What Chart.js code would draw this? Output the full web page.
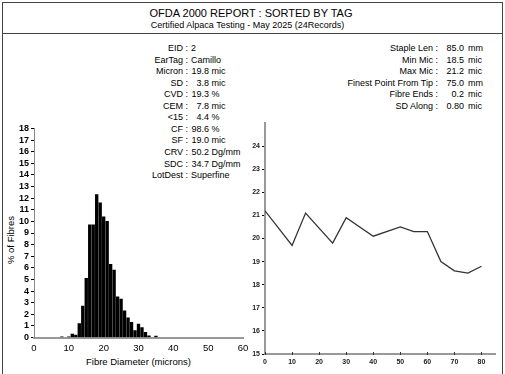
<!DOCTYPE html>
<html>
<head>
<meta charset="utf-8">
<script src="https://cdn.jsdelivr.net/npm/chart.js@4.4.1/dist/chart.umd.min.js"></script>
<style>
  body { margin: 0; width: 505px; height: 374px; overflow: hidden; background: #fff;
         font-family: "Liberation Sans", Arial, sans-serif; color: #000; position: relative; }
  #frame { position: absolute; left: 2px; top: 2px; width: 499px; height: 400px;
           border: 1px solid #444; border-bottom: none; }
  #sep { position: absolute; left: 2px; top: 33px; width: 501px; height: 1px; background: #444; }
  #title { position: absolute; left: 0; width: 502px; top: 7px; text-align: center; font-size: 11px; }
  #subtitle { position: absolute; left: 0; width: 495px; top: 20px; text-align: center; font-size: 9px; }
  .row { position: absolute; height: 12px; line-height: 12px; font-size: 9px; white-space: nowrap; }
  .row span { position: absolute; top: 0; }
  #xtitle { position: absolute; left: 34px; width: 209px; top: 356px; text-align: center; font-size: 9.5px; }
  #ytitle { position: absolute; left: 10px; top: 240px; font-size: 9.5px; white-space: nowrap;
            transform: translate(-50%, -50%) rotate(-90deg); }
  canvas { position: absolute; }
</style>
</head>
<body>
<div id="frame"></div>
<div id="sep"></div>
<div id="title">OFDA 2000 REPORT : SORTED BY TAG</div>
<div id="subtitle">Certified Alpaca Testing - May 2025 (24Records)</div>
<div id="stats"></div>
<div id="xtitle">Fibre Diameter (microns)</div>
<div id="ytitle">% of Fibres</div>
<canvas id="histo" width="260" height="264" style="left:0;top:110px"></canvas>
<canvas id="profile" width="275" height="274" style="left:230px;top:100px"></canvas>

<script>
// Sample summary (left block)
const statLabels = ['EID', 'EarTag', 'Micron', 'SD', 'CVD', 'CEM', '<15', 'CF', 'SF', 'CRV', 'SDC', 'LotDest'];
const statValues = ['2', 'Camillo', '19.8', '3.8', '19.3', '7.8', '4.4', '98.6', '19.0', '50.2', '34.7', 'Superfine'];
const statUnits = ['', '', 'mic', 'mic', '%', 'mic', '%', '%', 'mic', 'Dg/mm', 'Dg/mm', ''];

// Staple profile summary (right block)
const profileLabels = ['Staple Len', 'Min Mic', 'Max Mic', 'Finest Point From Tip', 'Fibre Ends', 'SD Along'];
const profileValues = ['85.0', '18.5', '21.2', '75.0', '0.2', '0.80'];
const profileUnits = ['mm', 'mic', 'mic', 'mm', 'mic', 'mic'];

// Histogram: fibre diameter (microns) vs % of fibres
const diameters = [8, 10, 11, 12, 13, 14, 15, 16, 17, 18, 19, 20, 21, 22, 23, 24, 25, 26, 27, 28, 29, 30, 31, 32, 33, 35];
const fibrePercent = [0.05, 0.05, 0.3, 0.2, 1.2, 2.7, 5.1, 9.7, 9.7, 12.3, 11.6, 10.4, 10.0, 6.3, 5.8, 3.5, 3.3, 2.3, 1.7, 1.3, 0.6, 1.15, 0.85, 0.45, 0.15, 0.12];
const histoYTicks = [0, 1, 2, 3, 4, 5, 6, 7, 8, 9, 10, 11, 12, 13, 14, 15, 16, 17, 18];
const histoXTicks = [0, 10, 20, 30, 40, 50, 60];

// Micron profile along the staple
const tipDistance = [0, 10, 15, 25, 30, 40, 50, 55, 60, 65, 70, 75, 80];
const profileMicron = [21.2, 19.7, 21.1, 19.8, 20.9, 20.1, 20.5, 20.3, 20.3, 19.0, 18.6, 18.5, 18.8];
const profileYTicks = [15, 16, 17, 18, 19, 20, 21, 22, 23, 24];
const profileXTicks = [0, 10, 20, 30, 40, 50, 60, 70, 80];

function addRows(labels, values, units, colonX, numX, unitGap, top) {
  const box = document.getElementById('stats');
  labels.forEach((lab, i) => {
    const row = document.createElement('div');
    row.className = 'row';
    row.style.left = '0px';
    row.style.top = (top + i * 11.55 - 6) + 'px';
    const l = document.createElement('span');
    l.textContent = lab + ' :';
    l.style.left = '0px';
    l.style.width = colonX + 'px';
    l.style.textAlign = 'right';
    row.appendChild(l);
    const v = document.createElement('span');
    v.textContent = values[i];
    if (units[i]) {
      v.style.left = colonX + 'px';
      v.style.width = (numX - colonX) + 'px';
      v.style.textAlign = 'right';
      const u = document.createElement('span');
      u.textContent = units[i];
      u.style.left = (numX + unitGap) + 'px';
      row.appendChild(u);
    } else {
      v.style.left = (colonX + 3) + 'px';
    }
    row.appendChild(v);
    box.appendChild(row);
  });
}

addRows(statLabels, statValues, statUnits, 188, 209, 2.5, 48);
addRows(profileLabels, profileValues, profileUnits, 438, 464, 4, 48);

const tickFont = { family: 'Liberation Sans', size: 9, weight: 'bold' };
const smallFont = { family: 'Liberation Sans', size: 7, weight: 'bold' };

function keepTicks(list) {
  return scale => { scale.ticks = list.map(v => ({ value: v })); };
}

// little tick marks standing on the profile x axis
const innerTicks = {
  id: 'innerTicks',
  afterDraw(chart) {
    const x = chart.scales.x;
    const ctx = chart.ctx;
    ctx.save();
    ctx.strokeStyle = '#333';
    ctx.lineWidth = 1;
    profileXTicks.forEach(v => {
      const px = Math.round(x.getPixelForValue(v)) + 0.5;
      ctx.beginPath();
      ctx.moveTo(px, x.top - 2);
      ctx.lineTo(px, x.top + 1);
      ctx.stroke();
    });
    ctx.restore();
  }
};

new Chart(document.getElementById('histo'), {
  type: 'bar',
  data: {
    datasets: [{
      data: diameters.map((d, i) => ({ x: d, y: fibrePercent[i] })),
      backgroundColor: '#000',
      barThickness: 2.7
    }]
  },
  options: {
    responsive: false,
    animation: false,
    events: [],
    layout: { autoPadding: false, padding: { left: 0, top: 18.5, right: 17, bottom: 16.5 } },
    plugins: { legend: { display: false }, tooltip: { enabled: false } },
    scales: {
      x: {
        type: 'linear', min: 0, max: 60, offset: false,
        afterBuildTicks: keepTicks(histoXTicks),
        afterFit: s => { s.height = 20; },
        ticks: { color: '#000', font: { family: 'Liberation Sans', size: 9.5 }, padding: 5, maxRotation: 0, autoSkip: false },
        grid: { display: false, drawTicks: false, tickLength: 0 },
        border: { color: '#999', width: 2 }
      },
      y: {
        min: 0, max: 18,
        afterBuildTicks: keepTicks(histoYTicks),
        afterFit: s => { s.width = 34; },
        ticks: { color: '#000', font: tickFont, padding: 2, autoSkip: false },
        grid: { drawOnChartArea: false, color: '#000', tickLength: 3 },
        border: { color: '#888', width: 1 }
      }
    }
  }
});

new Chart(document.getElementById('profile'), {
  type: 'line',
  data: {
    datasets: [{
      data: tipDistance.map((d, i) => ({ x: d, y: profileMicron[i] })),
      borderColor: '#333',
      borderWidth: 1.3,
      pointRadius: 0,
      tension: 0
    }]
  },
  options: {
    responsive: false,
    animation: false,
    events: [],
    layout: { autoPadding: false, padding: { left: 0, top: 23, right: 10, bottom: 0 } },
    plugins: { legend: { display: false }, tooltip: { enabled: false } },
    scales: {
      x: {
        type: 'linear', min: 0, max: 85,
        afterBuildTicks: keepTicks(profileXTicks),
        afterFit: s => { s.height = 20; },
        ticks: { color: '#222', font: smallFont, padding: 4, maxRotation: 0, autoSkip: false },
        grid: { display: false, drawTicks: false, tickLength: 0 },
        border: { color: '#999', width: 2 }
      },
      y: {
        type: 'linear', min: 15, max: 25,
        afterBuildTicks: keepTicks(profileYTicks),
        afterFit: s => { s.width = 35; },
        ticks: { color: '#222', font: smallFont, padding: 2, autoSkip: false },
        grid: { drawOnChartArea: false, color: '#000', tickLength: 3 },
        border: { color: '#999', width: 2 }
      }
    }
  },
  plugins: [innerTicks]
});
</script>
</body>
</html>
